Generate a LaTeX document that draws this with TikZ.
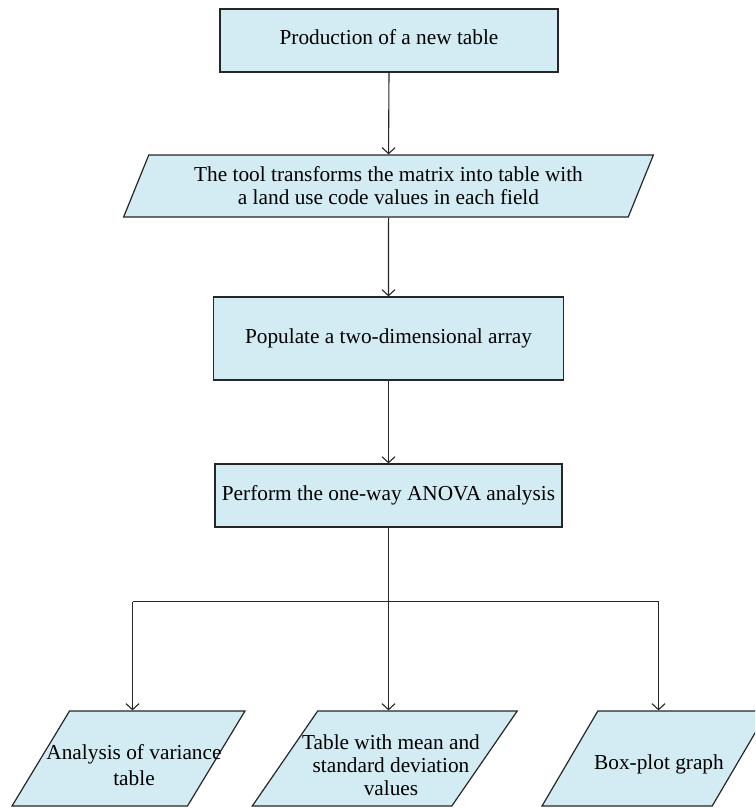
\documentclass[tikz,border=0pt]{standalone}
\usepackage{fontspec}
\setmainfont{Liberation Serif}
\usetikzlibrary{shapes.geometric,arrows.meta}
\definecolor{boxfill}{HTML}{D3EBF2}
\definecolor{edge}{HTML}{262626}
\begin{document}
\begin{tikzpicture}[x=1pt,y=-1pt,
  every node/.style={font=\fontsize{21.3}{23}\selectfont},
  box/.style={draw=edge, fill=boxfill, line width=1.2pt, inner sep=2pt, align=center},
  para/.style={box, trapezium, trapezium left angle=64, trapezium right angle=116, trapezium stretches=true},
  txt/.style={inner sep=0pt, align=center},
  arr/.style={draw=edge, line width=1.1pt, -{Straight Barb[length=6pt,width=13pt]}},
  link/.style={draw=edge, line width=1.1pt}]
\useasboundingbox (0,0) rectangle (755,808);
\clip (0,0) rectangle (755,808);
\node[box, minimum width=338pt, minimum height=63pt] (b1) at (389,40.5) {};
\node[txt] (t1) at (389,37) {Production of a new table};
\node[para, minimum width=530pt, minimum height=62pt] (p2) at (388.5,186) {The tool transforms the matrix into table with\\a land use code values in each field};
\node[box, minimum width=350pt, minimum height=83pt] (b3) at (388.5,338.5) {Populate a two-dimensional array};
\node[box, minimum width=347pt, minimum height=63pt] (b4) at (388.5,495.5) {Perform the one-way ANOVA analysis};
\node[para, minimum width=233pt, minimum height=95pt] (pl) at (128.5,758.5) {};
\node[para, minimum width=265pt, minimum height=95pt] (pm) at (384.75,758.5) {};
\node[para, minimum width=226pt, minimum height=95pt] (pr) at (655,758.5) {};
\node[txt, font=\fontsize{21.3}{26}\selectfont] (tl) at (134,765) {Analysis of variance\\table};
\node[txt] (tm) at (391,765) {Table with mean and\\standard deviation\\values};
\node[txt] (tr) at (659,764) {Box-plot graph};
\coordinate (j) at (388.5,601.5);
\coordinate (jl) at (132.5,601.5);
\coordinate (jr) at (658.5,601.5);
\draw[arr] (b1.south) -- (p2.north);
\draw[arr] (p2.south) -- (b3.north);
\draw[arr] (b3.south) -- (b4.north);
\draw[link] (b4.south) -- (j);
\draw[link] (jl) -- (jr);
\draw[arr] (jl) -- (jl |- pl.north);
\draw[arr] (j) -- (j |- pm.north);
\draw[arr] (jr) -- (jr |- pr.north);
\end{tikzpicture}
\end{document}
